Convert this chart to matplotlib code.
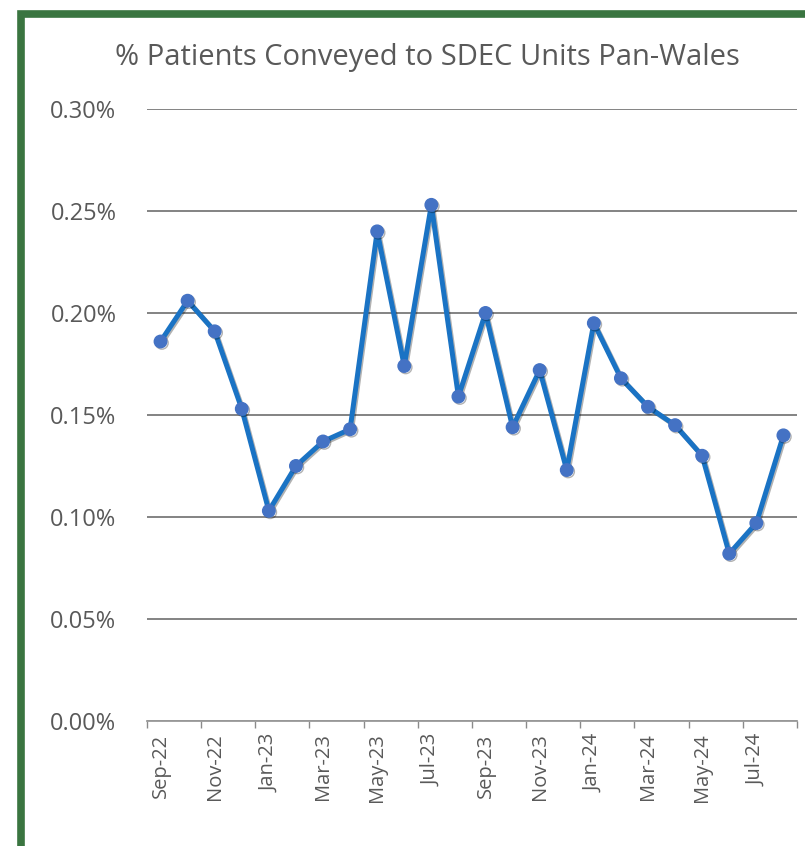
import matplotlib
matplotlib.use("Agg")
import matplotlib.pyplot as plt
import matplotlib.patheffects as pe
from matplotlib.patches import Rectangle
from matplotlib.ticker import FuncFormatter, FixedLocator

months = ["Sep-22", "Oct-22", "Nov-22", "Dec-22", "Jan-23", "Feb-23", "Mar-23", "Apr-23",
          "May-23", "Jun-23", "Jul-23", "Aug-23", "Sep-23", "Oct-23", "Nov-23", "Dec-23",
          "Jan-24", "Feb-24", "Mar-24", "Apr-24", "May-24", "Jun-24", "Jul-24", "Aug-24"]
pct_conveyed = [0.186, 0.206, 0.191, 0.153, 0.103, 0.125, 0.137, 0.143,
                0.240, 0.174, 0.253, 0.159, 0.200, 0.144, 0.172, 0.123,
                0.195, 0.168, 0.154, 0.145, 0.130, 0.082, 0.097, 0.140]
y_ticks = [0.00, 0.05, 0.10, 0.15, 0.20, 0.25, 0.30]

plt.rcParams['font.family'] = ['Open Sans', 'DejaVu Sans']
text_grey = '#595959'

fig = plt.figure(figsize=(8.05, 8.46), dpi=100)
ax = fig.add_axes([0.1826, 0.1478, 0.8074, 0.7234])

x = list(range(len(months)))
ax.plot(x, pct_conveyed, color='#1a73c4', lw=3.6, marker='o', ms=9,
        mfc='#4472c4', mec='#4472c4', zorder=3,
        path_effects=[pe.SimpleLineShadow(offset=(1.0, -1.0), shadow_color='black', alpha=0.3),
                      pe.Normal()])

ax.set_xlim(-0.5, len(months) - 0.5)
ax.set_ylim(0, 0.30)
ax.yaxis.set_major_locator(FixedLocator(y_ticks))
ax.yaxis.set_major_formatter(FuncFormatter(lambda v, p: f"{v:.2f}%"))
ax.grid(axis='y', color='#7a7a7a', lw=1.3, zorder=1)

ax.set_xticks(x[::2])
ax.set_xticklabels(months[::2], rotation=90, fontsize=14.5, color=text_grey)
ax.set_xticks([i - 0.5 for i in range(0, len(months) + 1, 2)], minor=True)
ax.tick_params(axis='x', which='major', length=0, pad=9)
ax.tick_params(axis='x', which='minor', length=5, color='#8a8a8a', width=1)
ax.tick_params(axis='y', length=0, pad=22, labelsize=17, labelcolor=text_grey)

for s in ['top', 'right', 'left']:
    ax.spines[s].set_visible(False)
ax.spines['bottom'].set_color('#9a9a9a')
ax.spines['bottom'].set_linewidth(1.3)

fig.text(0.531, 0.932, "% Patients Conveyed to SDEC Units Pan-Wales",
         ha='center', va='center', fontsize=21, color=text_grey)

# green frame around the chart panel
fig.patches.append(Rectangle((0.026, -0.05), 1.1, 1.033, transform=fig.transFigure,
                             fill=False, edgecolor='#3a7540', lw=5.5, zorder=10))

fig.savefig("out.png", dpi=100)
